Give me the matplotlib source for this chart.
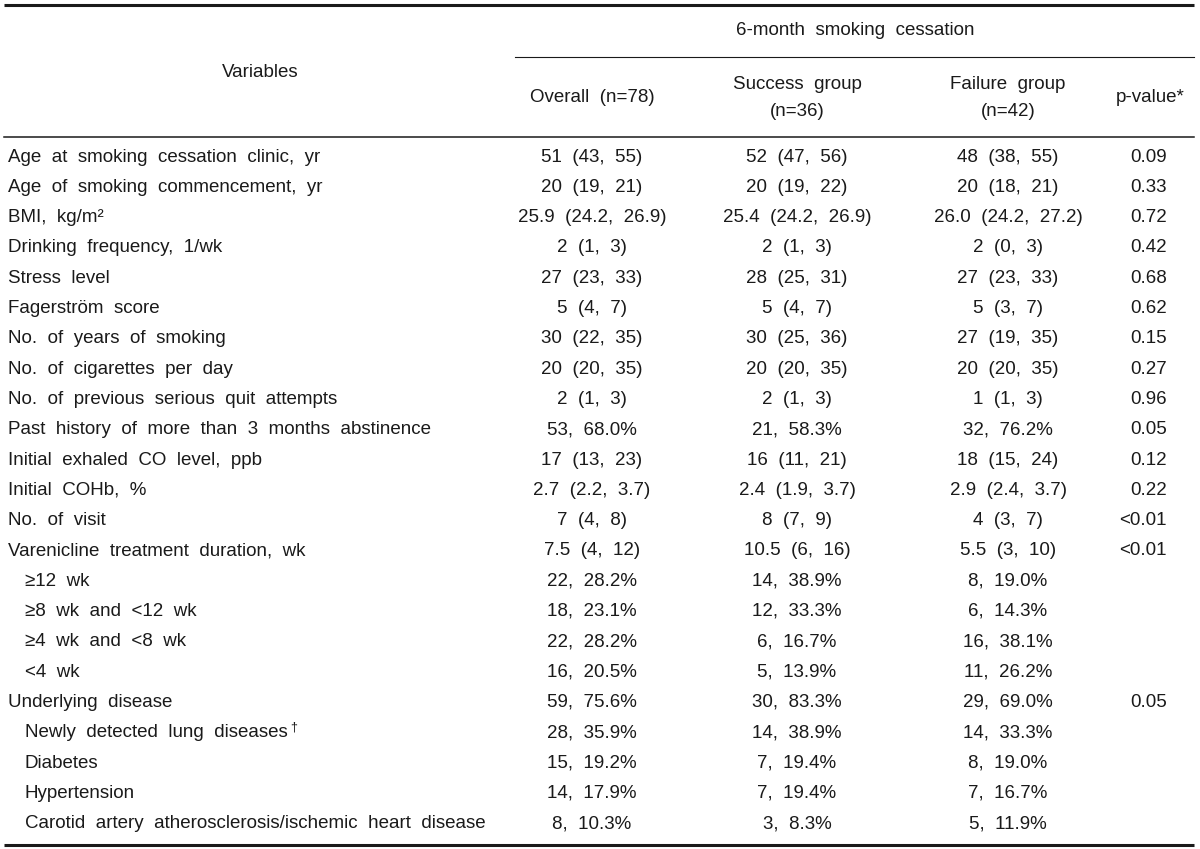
import matplotlib
matplotlib.use("Agg")
import matplotlib.pyplot as plt

plt.rcParams['font.family'] = ['Liberation Sans', 'DejaVu Sans']

# === Table data ===
variables = [
    "Age at smoking cessation clinic, yr",
    "Age of smoking commencement, yr",
    "BMI, kg/m\u00b2",
    "Drinking frequency, 1/wk",
    "Stress level",
    "Fagerstr\u00f6m score",
    "No. of years of smoking",
    "No. of cigarettes per day",
    "No. of previous serious quit attempts",
    "Past history of more than 3 months abstinence",
    "Initial exhaled CO level, ppb",
    "Initial COHb, %",
    "No. of visit",
    "Varenicline treatment duration, wk",
    "\u226512 wk",
    "\u22658 wk and <12 wk",
    "\u22654 wk and <8 wk",
    "<4 wk",
    "Underlying disease",
    "Newly detected lung diseases",
    "Diabetes",
    "Hypertension",
    "Carotid artery atherosclerosis/ischemic heart disease",
]
indented = [0, 0, 0, 0, 0, 0, 0, 0, 0, 0, 0, 0, 0, 0, 1, 1, 1, 1, 0, 1, 1, 1, 1]
footnote_mark = {"Newly detected lung diseases": "\u2020"}

overall = [
    "51 (43, 55)", "20 (19, 21)", "25.9 (24.2, 26.9)", "2 (1, 3)", "27 (23, 33)",
    "5 (4, 7)", "30 (22, 35)", "20 (20, 35)", "2 (1, 3)", "53, 68.0%",
    "17 (13, 23)", "2.7 (2.2, 3.7)", "7 (4, 8)", "7.5 (4, 12)",
    "22, 28.2%", "18, 23.1%", "22, 28.2%", "16, 20.5%",
    "59, 75.6%", "28, 35.9%", "15, 19.2%", "14, 17.9%", "8, 10.3%",
]
success = [
    "52 (47, 56)", "20 (19, 22)", "25.4 (24.2, 26.9)", "2 (1, 3)", "28 (25, 31)",
    "5 (4, 7)", "30 (25, 36)", "20 (20, 35)", "2 (1, 3)", "21, 58.3%",
    "16 (11, 21)", "2.4 (1.9, 3.7)", "8 (7, 9)", "10.5 (6, 16)",
    "14, 38.9%", "12, 33.3%", "6, 16.7%", "5, 13.9%",
    "30, 83.3%", "14, 38.9%", "7, 19.4%", "7, 19.4%", "3, 8.3%",
]
failure = [
    "48 (38, 55)", "20 (18, 21)", "26.0 (24.2, 27.2)", "2 (0, 3)", "27 (23, 33)",
    "5 (3, 7)", "27 (19, 35)", "20 (20, 35)", "1 (1, 3)", "32, 76.2%",
    "18 (15, 24)", "2.9 (2.4, 3.7)", "4 (3, 7)", "5.5 (3, 10)",
    "8, 19.0%", "6, 14.3%", "16, 38.1%", "11, 26.2%",
    "29, 69.0%", "14, 33.3%", "8, 19.0%", "7, 16.7%", "5, 11.9%",
]
pvalues = [
    "0.09", "0.33", "0.72", "0.42", "0.68", "0.62", "0.15", "0.27", "0.96", "0.05",
    "0.12", "0.22", "<0.01", "<0.01", "", "", "", "", "0.05", "", "", "", "",
]

# === Figure ===
fig = plt.figure(figsize=(12, 8.49), dpi=100)
ax = fig.add_axes([0, 0, 1, 1])
ax.set_xlim(0, 1200)
ax.set_ylim(849, 0)
ax.axis('off')

ink = '#1a1a1a'
fs = 13.5


def wide(s):
    # the source typesetting uses very wide word spaces
    return s.replace(' ', '  ')


def cell(x, y, s, ha='center'):
    return ax.text(x, y, wide(s), ha=ha, va='center', fontsize=fs, color=ink)


# rules
ax.plot([4, 1194], [5, 5], color=ink, lw=2.2, solid_capstyle='butt')
ax.plot([515, 1194], [57, 57], color=ink, lw=0.8)
ax.plot([4, 1194], [137, 137], color=ink, lw=1.1)
ax.plot([4, 1194], [845, 845], color=ink, lw=2.2, solid_capstyle='butt')

# header
cell(260, 72, "Variables")
cell(855, 30, "6-month smoking cessation")
cell(592, 97, "Overall (n=78)")
cell(797, 84, "Success group")
cell(797, 111, "(n=36)")
cell(1008, 84, "Failure group")
cell(1008, 111, "(n=42)")
cell(1150, 97, "p-value*")

# body
y0, dy = 157, 30.3
fig.canvas.draw()
for i, name in enumerate(variables):
    y = y0 + i * dy
    x = 8 + 17 * indented[i]
    t = cell(x, y, name, ha='left')
    if name in footnote_mark:
        bb = t.get_window_extent(renderer=fig.canvas.get_renderer())
        ax.annotate(footnote_mark[name], xy=(bb.x1, bb.y1), xycoords='figure pixels',
                    xytext=(2, 2), textcoords='offset points',
                    ha='left', va='top', fontsize=9, color=ink)
    cell(592, y, overall[i])
    cell(797, y, success[i])
    cell(1008, y, failure[i])
    if pvalues[i]:
        cell(1167, y, pvalues[i], ha='right')

fig.savefig('out.png', dpi=100)
